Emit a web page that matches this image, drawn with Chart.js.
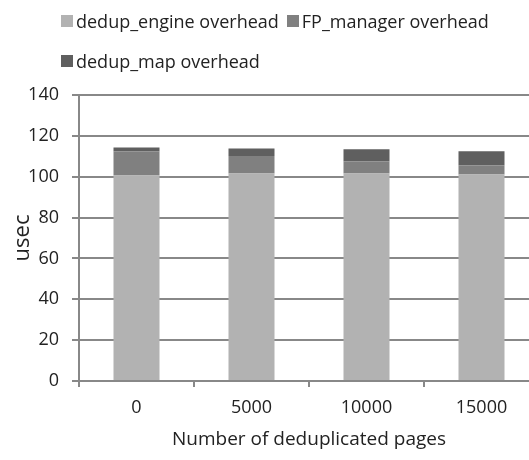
<!DOCTYPE html>
<html>
<head>
<meta charset="utf-8">
<script src="https://cdn.jsdelivr.net/npm/chart.js@4.4.1/dist/chart.umd.min.js"></script>
<style>
  html, body { margin: 0; padding: 0; background: #fff; overflow: hidden; }
  #wrap { position: relative; width: 529px; height: 460px; overflow: hidden; }
  #legend { position: absolute; left: 61px; top: 9px; font: 18px 'Open Sans', sans-serif; color: #222; }
  #legend .row { display: flex; align-items: center; height: 24px; margin-bottom: 16px; }
  #legend .item { display: flex; align-items: center; margin-right: 8px; white-space: nowrap; }
  #legend .box { width: 12px; height: 12px; margin-right: 3px; }
  canvas { position: absolute; left: 0; top: 0; }
</style>
</head>
<body>
<div id="wrap">
  <canvas id="chart" width="545" height="460"></canvas>
  <div id="legend"></div>
</div>
<script>
const categories = ['0', '5000', '10000', '15000'];
const engineOverhead = [100.6, 101.6, 101.6, 101.1];
const fpManagerOverhead = [11.9, 8.6, 6.0, 4.5];
const dedupMapOverhead = [1.8, 3.6, 5.8, 6.9];
const seriesNames = ['dedup_engine overhead', 'FP_manager overhead', 'dedup_map overhead'];
const seriesColors = ['#b2b2b2', '#808080', '#5f5f5f'];
const yMax = 140;
const yStep = 20;

const seriesData = [engineOverhead, fpManagerOverhead, dedupMapOverhead];
const textColor = '#222';
const gridColor = '#888888';
const font = "'Open Sans', sans-serif";

// legend: two items on the first row, one on the second
const legendRows = [[0, 1], [2]];
const legendEl = document.getElementById('legend');
legendRows.forEach(row => {
  const rowEl = document.createElement('div');
  rowEl.className = 'row';
  row.forEach(i => {
    const item = document.createElement('div');
    item.className = 'item';
    const box = document.createElement('span');
    box.className = 'box';
    box.style.background = seriesColors[i];
    const label = document.createElement('span');
    label.textContent = seriesNames[i];
    item.appendChild(box);
    item.appendChild(label);
    rowEl.appendChild(item);
  });
  legendEl.appendChild(rowEl);
});

new Chart(document.getElementById('chart'), {
  type: 'bar',
  data: {
    labels: categories,
    datasets: seriesData.map((d, i) => ({
      label: seriesNames[i],
      data: d,
      backgroundColor: seriesColors[i],
      borderWidth: 0,
      barPercentage: 0.4,
      categoryPercentage: 1
    }))
  },
  options: {
    responsive: false,
    animation: false,
    layout: { padding: { top: 95, right: 6, bottom: 0, left: 0 } },
    plugins: {
      legend: { display: false },
      tooltip: { enabled: false }
    },
    scales: {
      x: {
        stacked: true,
        afterFit: axis => { axis.height = 79; },
        grid: { offset: true, drawOnChartArea: false, drawTicks: true, tickLength: 6, color: gridColor, lineWidth: 2 },
        border: { color: gridColor, width: 2 },
        ticks: { color: textColor, font: { family: font, size: 18 }, padding: 10 },
        title: {
          display: true,
          text: 'Number of deduplicated pages',
          color: textColor,
          font: { family: font, size: 19 },
          padding: { top: 0, bottom: 9 }
        }
      },
      y: {
        stacked: true,
        min: 0,
        max: yMax,
        afterFit: axis => { axis.width = 79; },
        grid: { color: gridColor, lineWidth: 2, tickLength: 7 },
        border: { color: gridColor, width: 2 },
        ticks: { stepSize: yStep, color: textColor, font: { family: font, size: 18 }, padding: 13 },
        title: {
          display: true,
          text: 'usec',
          color: textColor,
          font: { family: font, size: 22 },
          padding: { top: 10, bottom: 0 }
        }
      }
    }
  }
});
</script>
</body>
</html>
